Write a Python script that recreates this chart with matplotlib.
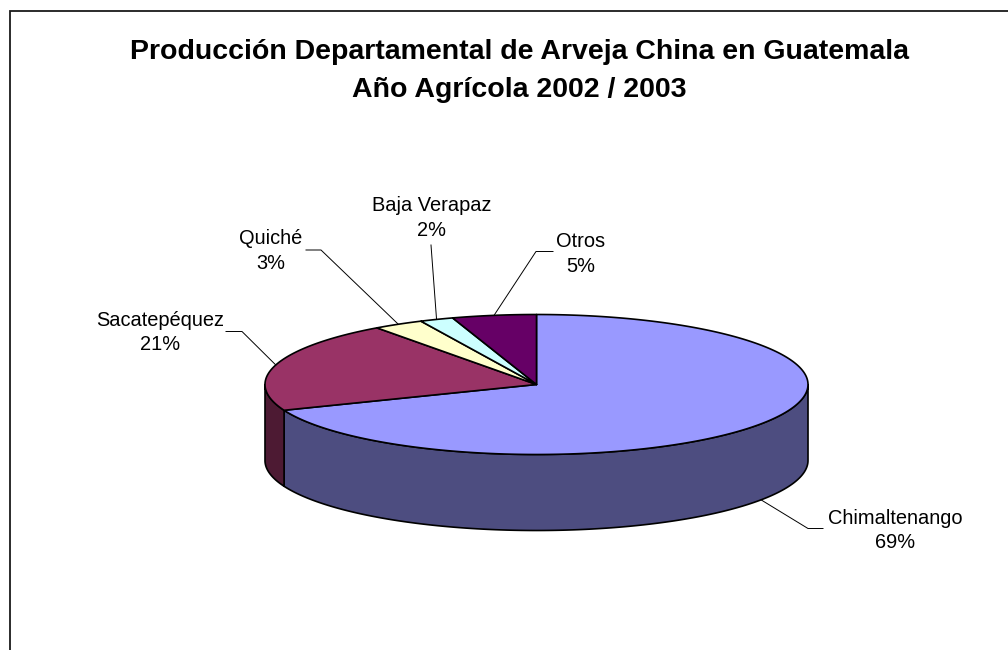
import numpy as np
import matplotlib
matplotlib.use('Agg')
import matplotlib.pyplot as plt
from matplotlib.patches import Polygon

plt.rcParams['font.family'] = ['Liberation Sans', 'DejaVu Sans']

# ---- data ----
categories = ['Chimaltenango', 'Sacatepéquez', 'Quiché', 'Baja Verapaz', 'Otros']
values = [69, 21, 3, 2, 5]
pct_labels = ['69%', '21%', '3%', '2%', '5%']
title_lines = ['Producción Departamental de Arveja China en Guatemala',
               'Año Agrícola 2002 / 2003']

# ---- style / layout ----
top_colors = ['#9999FF', '#993366', '#FFFFCC', '#CCFFFF', '#660066']
side_colors = ['#4D4D80', '#4D1A33', '#808066', '#668080', '#330033']

W, H = 1008, 650
cx, cy, rx, ry, depth = 536.5, 384.5, 271.5, 70.0, 76.0

# label anchors: (center x, baseline of first line), leader elbow & end
label_pos = [(895, 523.5), (160, 326.0), (271, 244.5), (432, 211.0), (581, 247.0)]
leader_elbow = [(808, 528.5), (242, 331.5), (321, 250.0), (431, 245.0), (536, 251.5)]
leader_end = [(823, 528.5), (226, 331.5), (306, 250.0), (431, 245.0), (553, 251.5)]
line_gap = 24.5

fig = plt.figure(figsize=(W / 100, H / 100), dpi=100)
ax = fig.add_axes([0, 0, 1, 1])
ax.set_xlim(0, W)
ax.set_ylim(H, 0)
ax.axis('off')


def rim(theta_deg, dz=0.0):
    t = np.radians(theta_deg)
    return cx + rx * np.sin(t), cy - ry * np.cos(t) + dz


total = float(sum(values))
angles = np.concatenate([[0.0], np.cumsum(values) / total * 360.0])

# side faces (front half: 90..270 deg clockwise from 12 o'clock)
for i in range(len(values)):
    a, b = angles[i], angles[i + 1]
    lo, hi = max(a, 90.0), min(b, 270.0)
    if hi <= lo:
        continue
    th = np.linspace(lo, hi, 200)
    xs, ys = rim(th)
    xb, yb = rim(th[::-1], depth)
    pts = np.column_stack([np.concatenate([xs, xb]), np.concatenate([ys, yb])])
    ax.add_patch(Polygon(pts, closed=True, facecolor=side_colors[i],
                         edgecolor='black', linewidth=1.2, joinstyle='round'))

# top faces
for i in range(len(values)):
    a, b = angles[i], angles[i + 1]
    th = np.linspace(a, b, max(int((b - a) * 3), 10))
    xs, ys = rim(th)
    pts = np.column_stack([np.concatenate([[cx], xs]), np.concatenate([[cy], ys])])
    ax.add_patch(Polygon(pts, closed=True, facecolor=top_colors[i],
                         edgecolor='black', linewidth=1.2, joinstyle='round'))

# leader lines and labels
for i in range(len(values)):
    mid = (angles[i] + angles[i + 1]) / 2.0
    front = 90.0 < mid < 270.0
    px, py = rim(mid, depth if front else 0.0)
    ex, ey = leader_elbow[i]
    hx, hy = leader_end[i]
    ax.plot([px, ex, hx], [py, ey, hy], color='black', linewidth=0.7,
            solid_joinstyle='miter')
    lx, ly = label_pos[i]
    ax.text(lx, ly, categories[i], ha='center', va='baseline', fontsize=14.4,
            color='black')
    ax.text(lx, ly + line_gap, pct_labels[i], ha='center', va='baseline',
            fontsize=14.4, color='black')

# title
ax.text(519, 59, title_lines[0], ha='center', va='baseline', fontsize=20.5,
        fontweight='bold', color='black')
ax.text(519, 97, title_lines[1], ha='center', va='baseline', fontsize=20.5,
        fontweight='bold', color='black')

# chart frame (left and top edges visible)
ax.plot([10, 10, W + 5], [H + 5, 11, 11], color='#1a1a1a', linewidth=1.3,
        solid_joinstyle='miter')

fig.savefig('out.png', dpi=100, facecolor='white')
